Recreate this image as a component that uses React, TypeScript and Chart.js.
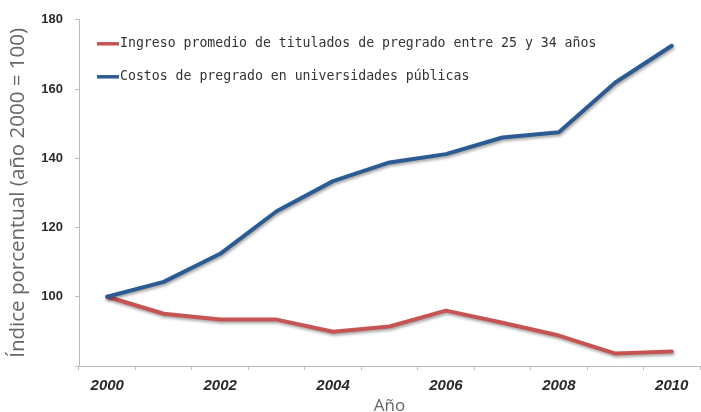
import React, { useEffect, useRef } from 'react';
import { Chart, registerables } from 'chart.js';

Chart.register(...registerables);

const years = ['2000', '2001', '2002', '2003', '2004', '2005', '2006', '2007', '2008', '2009', '2010'];
const ingreso = [100, 95.1, 93.4, 93.4, 89.9, 91.4, 96.0, 92.5, 88.8, 83.6, 84.2];
const costos = [100, 104.3, 112.4, 124.7, 133.4, 138.8, 141.2, 146.0, 147.5, 161.9, 172.5];
const yMin = 80;
const yMax = 180;
const yStep = 20;
const seriesNames = [
  'Ingreso promedio de titulados de pregrado entre 25 y 34 años',
  'Costos de pregrado en universidades públicas',
];
const seriesColors = ['#c65452', '#2c5a92'];
const yTitle = 'Índice porcentual (año 2000 = 100)';
const xTitle = 'Año';

const shadowPlugin = {
  id: 'lineShadow',
  beforeDatasetsDraw(chart: any) {
    const ctx = chart.ctx;
    ctx.save();
    ctx.shadowColor = 'rgba(0,0,0,0.35)';
    ctx.shadowBlur = 3;
    ctx.shadowOffsetX = 1;
    ctx.shadowOffsetY = 2;
  },
  afterDatasetsDraw(chart: any) {
    chart.ctx.restore();
  },
};

const innerLegend = {
  id: 'innerLegend',
  afterDraw(chart: any) {
    const ctx = chart.ctx;
    const { left, top } = chart.chartArea;
    ctx.save();
    ctx.font = '13.2px "DejaVu Sans Mono"';
    ctx.textBaseline = 'middle';
    ctx.textAlign = 'left';
    seriesNames.forEach((name, i) => {
      const y = top + 24 + i * 33;
      const x0 = left + 18;
      ctx.strokeStyle = seriesColors[i];
      ctx.lineWidth = 3.5;
      ctx.beginPath();
      ctx.moveTo(x0, y);
      ctx.lineTo(x0 + 22, y);
      ctx.stroke();
      ctx.fillStyle = '#333';
      ctx.fillText(name, x0 + 23, y);
    });
    ctx.restore();
  },
};

export default function App() {
  const ref = useRef<HTMLCanvasElement>(null);
  useEffect(() => {
    document.body.style.margin = '0';
    const chart = new Chart(ref.current as HTMLCanvasElement, {
      type: 'line',
      data: {
        labels: years,
        datasets: [
          {
            label: seriesNames[1],
            data: costos,
            borderColor: seriesColors[1],
            backgroundColor: seriesColors[1],
            borderWidth: 4,
            pointRadius: 0,
            tension: 0,
            borderCapStyle: 'round',
            borderJoinStyle: 'round',
          },
          {
            label: seriesNames[0],
            data: ingreso,
            borderColor: seriesColors[0],
            backgroundColor: seriesColors[0],
            borderWidth: 4,
            pointRadius: 0,
            tension: 0,
            borderCapStyle: 'round',
            borderJoinStyle: 'round',
          },
        ],
      },
      options: {
        responsive: false,
        animation: false,
        layout: { padding: { top: 11, right: 1, bottom: 0, left: 0 } },
        plugins: { legend: { display: false }, tooltip: { enabled: false } },
        scales: {
          x: {
            type: 'category',
            offset: true,
            grid: { display: true, drawOnChartArea: false, tickLength: 4, color: '#bbb', offset: true },
            border: { display: true, color: '#bbb', width: 1 },
            ticks: {
              autoSkip: false,
              maxRotation: 0,
              padding: 7,
              color: '#2a2a2a',
              font: { family: '"Liberation Sans"', size: 15, weight: 'bold', style: 'italic' },
              callback: (_v: any, i: number) => (i % 2 === 0 ? years[i] : ''),
            },
            title: {
              display: true,
              text: xTitle,
              color: '#666',
              font: { family: '"Open Sans"', size: 17 },
              padding: { top: 0, bottom: -4 },
            },
            afterFit: (s: any) => { s.height = 46; },
          },
          y: {
            min: yMin,
            max: yMax,
            ticks: {
              stepSize: yStep,
              padding: 12,
              color: '#2a2a2a',
              font: { family: '"Liberation Sans"', size: 13, weight: 'bold' },
              callback: (v: any) => (v === yMin ? '' : String(v)),
            },
            grid: { display: true, drawOnChartArea: false, tickLength: 4, color: '#bbb' },
            border: { display: true, color: '#bbb', width: 1 },
            title: {
              display: true,
              text: yTitle,
              color: '#666',
              font: { family: '"Open Sans"', size: 20.5 },
              padding: { top: 6, bottom: 0 },
            },
            afterFit: (s: any) => { s.width = 79; },
          },
        },
      },
      plugins: [shadowPlugin, innerLegend],
    });
    return () => chart.destroy();
  }, []);
  return (
    <div style={{ position: 'absolute', left: 0, top: 0, width: 701, height: 412, background: '#fff' }}>
      <canvas ref={ref} width={701} height={412} />
    </div>
  );
}
